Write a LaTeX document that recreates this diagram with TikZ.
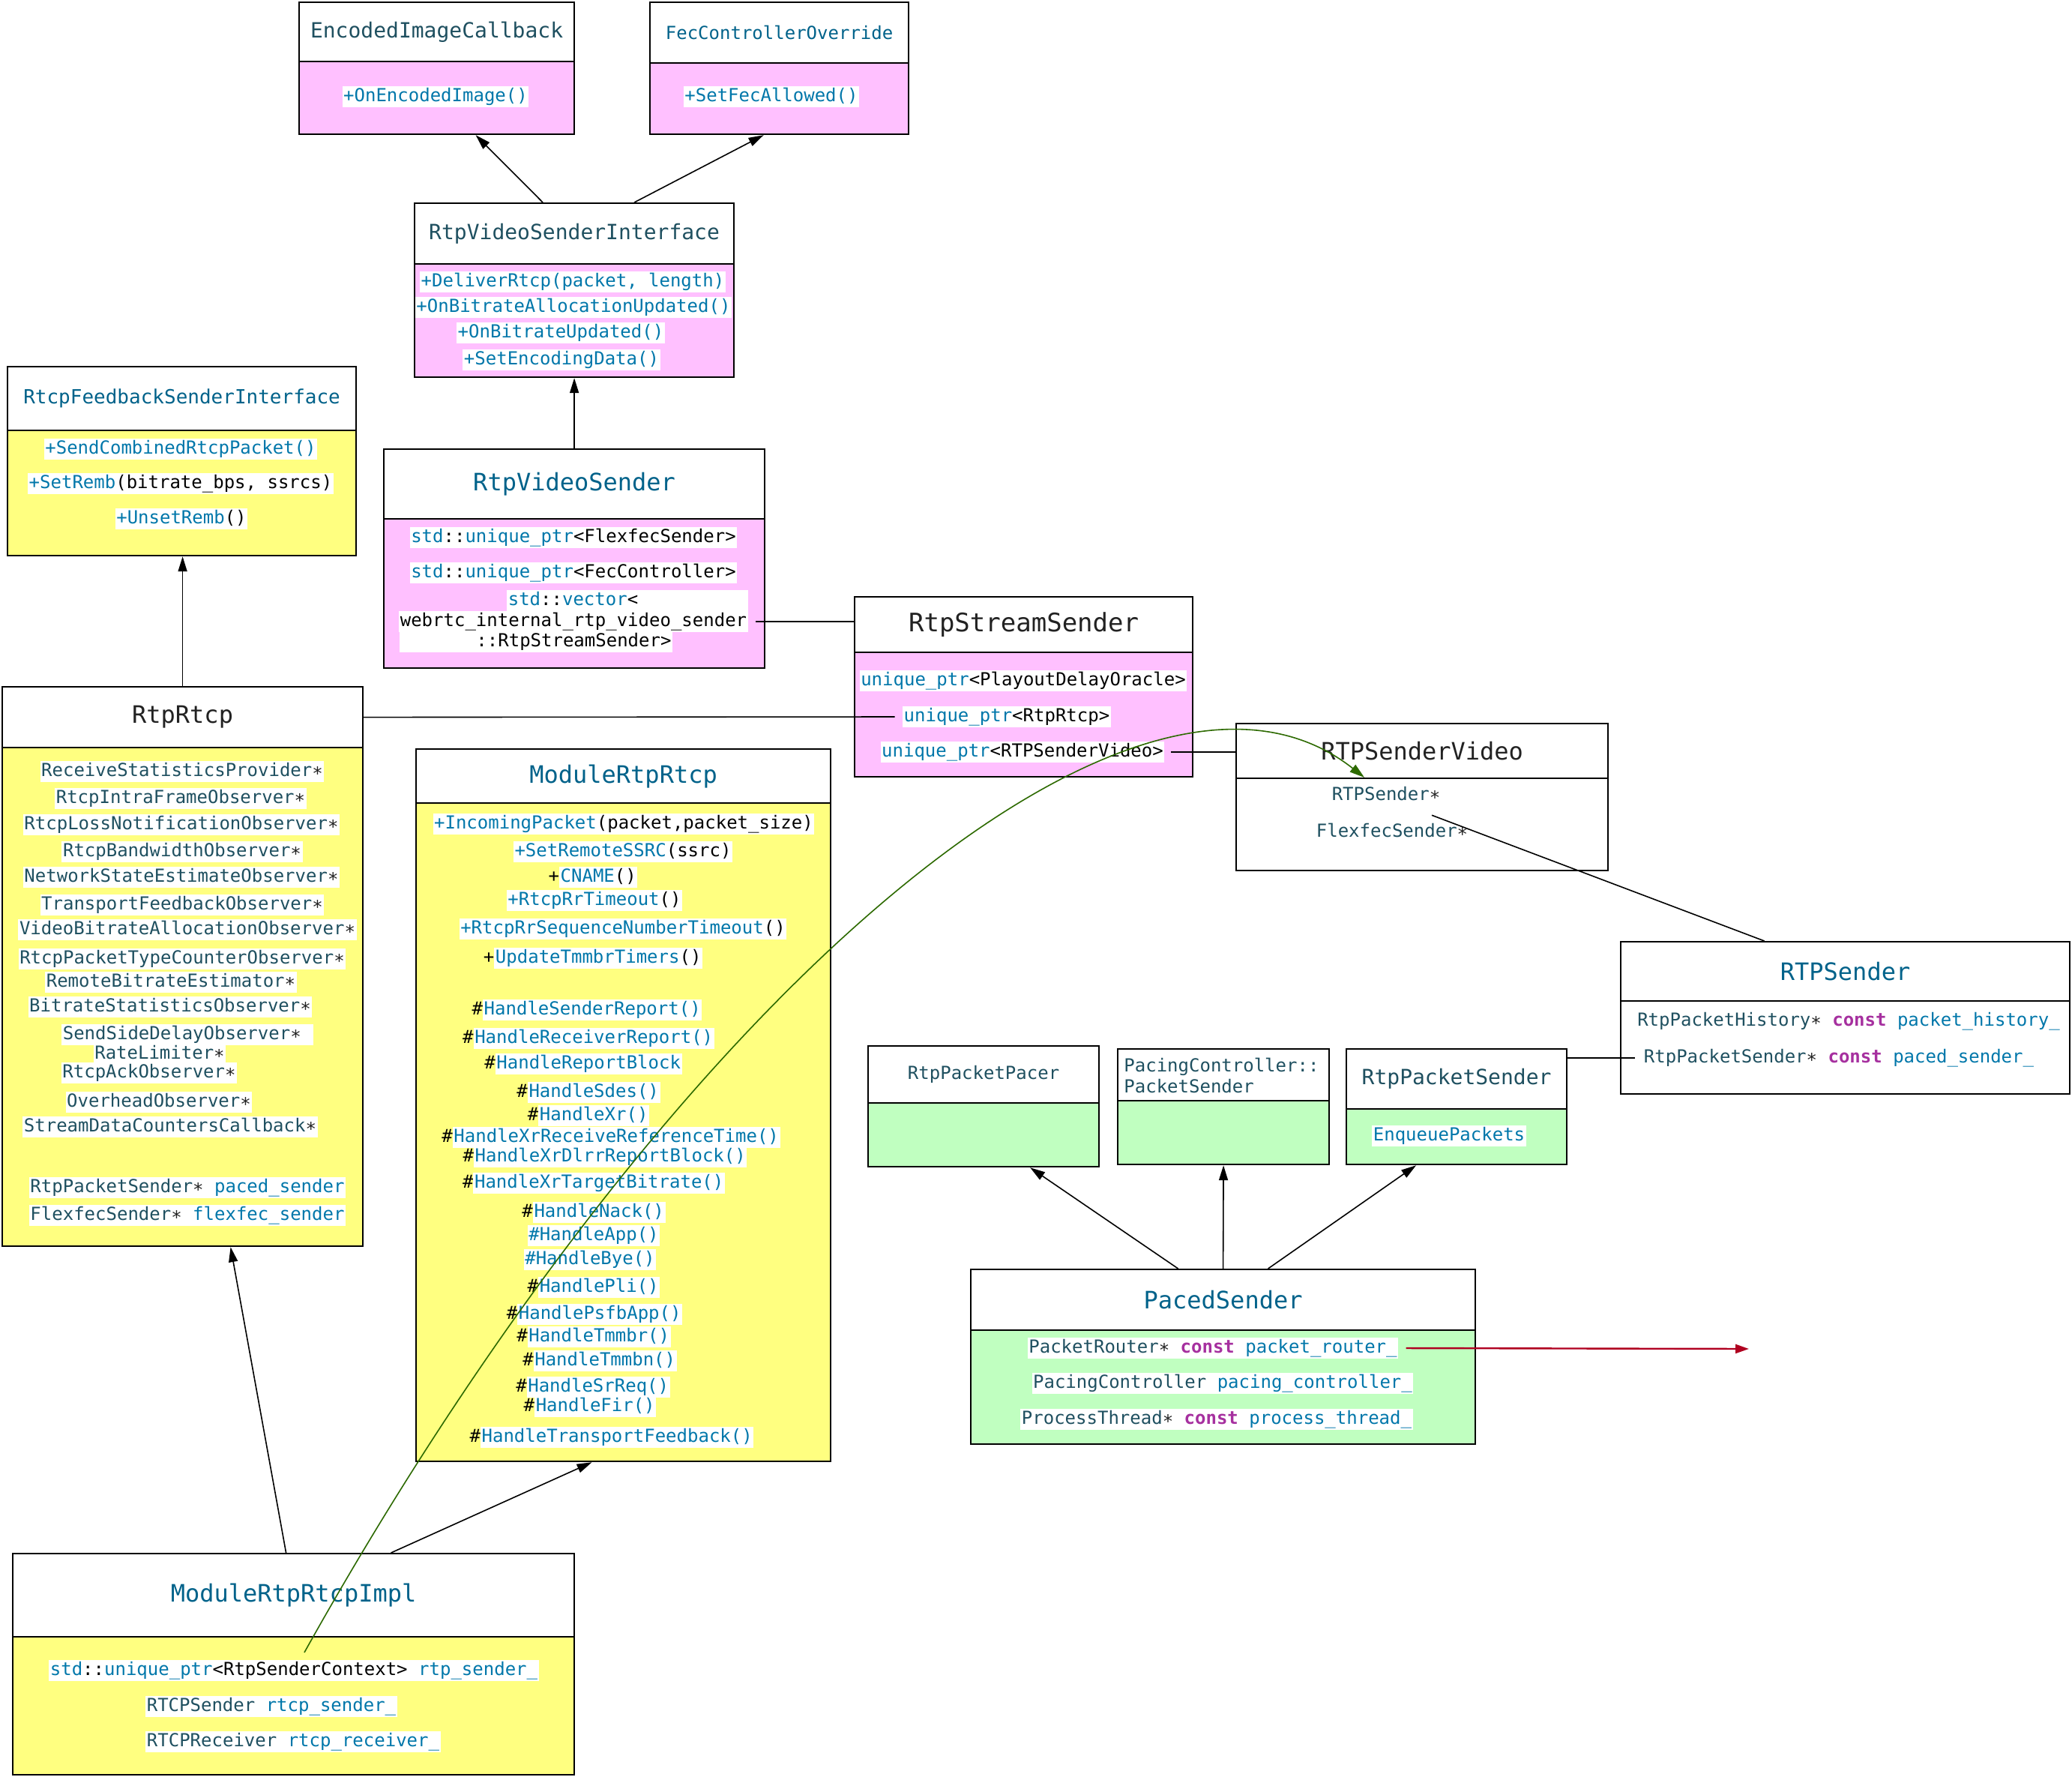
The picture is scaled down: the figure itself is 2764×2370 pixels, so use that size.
\documentclass[tikz,border=0pt]{standalone}
\usepackage{fontspec}
\setmainfont{DejaVu Sans Mono}
\usetikzlibrary{arrows.meta,calc}
\definecolor{cpink}{HTML}{FFC0FF}
\definecolor{cyel}{HTML}{FFFF80}
\definecolor{cgrn}{HTML}{C0FFC0}
\definecolor{cta}{HTML}{1F5060}
\definecolor{ctb}{HTML}{00628A}
\definecolor{cfn}{HTML}{0077AA}
\definecolor{ckw}{HTML}{A6309F}
\definecolor{cdk}{HTML}{222222}
\definecolor{cgreen}{HTML}{2D6A00}
\definecolor{cred}{HTML}{B00020}
\newcommand\fn[1]{\textcolor{cfn}{#1}}
\newcommand\ty[1]{\textcolor{cta}{#1}}
\newcommand\kw[1]{\textcolor{ckw}{\bfseries #1}}
\newcommand\astk{\textcolor{cdk}{∗}}
\newcommand\hl[1]{{\setlength\fboxsep{0.8pt}\colorbox{white}{\vrule width0pt height9pt depth3pt\relax #1}}}
\newcommand\tsz[1]{\fontsize{#1pt}{#1pt}\selectfont}
\tikzset{
  hdr/.style={draw, line width=1.1pt, fill=white, anchor=north west, inner sep=0, text=cdk},
  bdy/.style={draw, line width=1.1pt, fill=#1, anchor=north west, inner sep=0},
  it/.style={inner sep=0, font=\tsz{12}, text=black},
  arr/.style={line width=0.8pt, -{Triangle[length=10pt,width=6pt]}},
  ln/.style={line width=0.8pt},
}
\begin{document}
\begin{tikzpicture}[x=0.5pt,y=-0.5pt]
\fill[white] (0,0) rectangle (2764,2370);
\useasboundingbox (0,0) rectangle (2764,2370);

% EncodedImageCallback
\node[hdr, minimum width=183.5pt, minimum height=39.5pt, text=cta, font=\tsz{14}] (eic) at (398,2) {EncodedImageCallback};
\node[bdy=cpink, minimum width=183.5pt, minimum height=48.5pt] (eicb) at (398,81) {};
\node[it] (eic1) at (581,129) {\hl{\fn{+OnEncodedImage()}}};

% FecControllerOverride
\node[hdr, minimum width=172.5pt, minimum height=40.5pt, text=ctb, font=\tsz{12}] (fco) at (866,2) {FecControllerOverride};
\node[bdy=cpink, minimum width=172.5pt, minimum height=47.5pt] (fcob) at (866,83) {};
\node[it] (fco1) at (1029,129) {\hl{\fn{+SetFecAllowed()}}};

% RtpVideoSenderInterface
\node[hdr, minimum width=213pt, minimum height=40.5pt, text=cta, font=\tsz{14}] (rvsi) at (552,270) {RtpVideoSenderInterface};
\node[bdy=cpink, minimum width=213pt, minimum height=75.5pt] (rvsib) at (552,351) {};
\node[it] (rvsi1) at (764,376) {\hl{\fn{+DeliverRtcp(packet, length)}}};
\node[it] (rvsi2) at (765,410) {\hl{\fn{+OnBitrateAllocationUpdated()}}};
\node[it] (rvsi3) at (748,444) {\hl{\fn{+OnBitrateUpdated()}}};
\node[it] (rvsi4) at (749,480) {\hl{\fn{+SetEncodingData()}}};

% RtcpFeedbackSenderInterface
\node[hdr, minimum width=232.5pt, minimum height=42.5pt, text=ctb, font=\tsz{13}] (rfsi) at (9,488) {RtcpFeedbackSenderInterface};
\node[bdy=cyel, minimum width=232.5pt, minimum height=83.5pt] (rfsib) at (9,573) {};
\node[it] (rfsi1) at (241,599) {\hl{\fn{+SendCombinedRtcpPacket()}}};
\node[it] (rfsi2) at (241,645) {\hl{\fn{+SetRemb}(bitrate\_bps, ssrcs)}};
\node[it] (rfsi3) at (242,692) {\hl{\fn{+UnsetRemb}()}};

% RtpVideoSender
\node[hdr, minimum width=254pt, minimum height=46.5pt, text=ctb, font=\tsz{16}] (rvs) at (511,598) {RtpVideoSender};
\node[bdy=cpink, minimum width=254pt, minimum height=99.5pt] (rvsb) at (511,691) {};
\node[it] (rvs1) at (765,717) {\hl{\fn{std}::\fn{unique\_ptr}<FlexfecSender>}};
\node[it] (rvs2) at (765,764) {\hl{\fn{std}::\fn{unique\_ptr}<FecController>}};
\node[it] (rvs3) at (837,801) {\hl{\fn{std}::\fn{vector}<\hspace{72.5pt}}};
\node[it] (rvs4) at (765,829) {\hl{webrtc\_internal\_rtp\_video\_sender}};
\node[it] (rvs5) at (715,856) {\hl{\hspace{50.5pt}::RtpStreamSender>}};

% RtpStreamSender
\node[hdr, minimum width=225.5pt, minimum height=37pt, font=\tsz{17}] (rss) at (1139,795) {RtpStreamSender};
\node[bdy=cpink, minimum width=225.5pt, minimum height=83pt] (rssb) at (1139,869) {};
\node[it] (rss1) at (1365,908) {\hl{\fn{unique\_ptr}<PlayoutDelayOracle>}};
\node[it] (rss2) at (1343,956) {\hl{\fn{unique\_ptr}<RtpRtcp>}};
\node[it] (rss3) at (1364,1003) {\hl{\fn{unique\_ptr}<RTPSenderVideo>}};

% RtpRtcp
\node[hdr, minimum width=240.5pt, minimum height=40.5pt, font=\tsz{16}] (rr) at (2,915) {RtpRtcp};
\node[bdy=cyel, minimum width=240.5pt, minimum height=332.5pt] (rrb) at (2,996) {};
\node[it] (rr1) at (243,1029) {\hl{\ty{ReceiveStatisticsProvider}\astk}};
\node[it] (rr2) at (241,1065) {\hl{\ty{RtcpIntraFrameObserver}\astk}};
\node[it] (rr3) at (242,1100) {\hl{\ty{RtcpLossNotificationObserver}\astk}};
\node[it] (rr4) at (243,1136) {\hl{\ty{RtcpBandwidthObserver}\astk}};
\node[it] (rr5) at (242,1170) {\hl{\ty{NetworkStateEstimateObserver}\astk}};
\node[it] (rr6) at (243,1207) {\hl{\ty{TransportFeedbackObserver}\astk}};
\node[it] (rr7) at (250,1240) {\hl{\ty{VideoBitrateAllocationObserver}\astk}};
\node[it] (rr8) at (243,1279) {\hl{\ty{RtcpPacketTypeCounterObserver}\astk}};
\node[it] (rr9) at (228,1310) {\hl{\ty{RemoteBitrateEstimator}\astk}};
\node[it] (rr10) at (227,1343) {\hl{\ty{BitrateStatisticsObserver}\astk}};
\node[it] (rr11) at (250,1380) {\hl{\ty{SendSideDelayObserver}\astk~}};
\node[it] (rr12) at (213,1406) {\hl{\ty{RateLimiter}\astk}};
\node[it] (rr13) at (199,1431) {\hl{\ty{RtcpAckObserver}\astk}};
\node[it] (rr14) at (212,1470) {\hl{\ty{OverheadObserver}\astk}};
\node[it] (rr15) at (227,1503) {\hl{\ty{StreamDataCountersCallback}\astk}};
\node[it] (rr16) at (250,1584) {\hl{\ty{RtpPacketSender}\astk{} \fn{paced\_sender}}};
\node[it] (rr17) at (250,1621) {\hl{\ty{FlexfecSender}\astk{} \fn{flexfec\_sender}}};

% ModuleRtpRtcp
\node[hdr, minimum width=276.5pt, minimum height=36pt, text=ctb, font=\tsz{16}] (mrr) at (554,998) {ModuleRtpRtcp};
\node[bdy=cyel, minimum width=276.5pt, minimum height=439pt] (mrrb) at (554,1070) {};
\node[it] (m1) at (832,1099) {\hl{\fn{+IncomingPacket}(packet,packet\_size)}};
\node[it] (m2) at (831,1136) {\hl{\fn{+SetRemoteSSRC}(ssrc)}};
\node[it] (m3) at (791,1170) {+\hl{\fn{CNAME}()}};
\node[it] (m4) at (793,1201) {\hl{\fn{+RtcpRrTimeout}()}};
\node[it] (m5) at (831,1239) {\hl{\fn{+RtcpRrSequenceNumberTimeout}()}};
\node[it] (m6) at (791,1278) {+\hl{\fn{UpdateTmmbrTimers}()}};
\node[it] (m7) at (783,1347) {\#\hl{\fn{HandleSenderReport()}}};
\node[it] (m8) at (785,1385) {\#\hl{\fn{HandleReceiverReport()}}};
\node[it] (m9) at (778,1419) {\#\hl{\fn{HandleReportBlock}}};
\node[it] (m10) at (785,1457) {\#\hl{\fn{HandleSdes()}}};
\node[it] (m11) at (785,1488) {\#\hl{\fn{HandleXr()}}};
\node[it] (m12) at (815,1517) {\#\hl{\fn{HandleXrReceiveReferenceTime()}}};
\node[it] (m13) at (807,1543) {\#\hl{\fn{HandleXrDlrrReportBlock()}}};
\node[it] (m14) at (792,1578) {\#\hl{\fn{HandleXrTargetBitrate()}}};
\node[it] (m15) at (792,1617) {\#\hl{\fn{HandleNack()}}};
\node[it] (m16) at (792,1648) {\hl{\fn{\#HandleApp()}}};
\node[it] (m17) at (787,1680) {\hl{\fn{\#HandleBye()}}};
\node[it] (m18) at (792,1717) {\#\hl{\fn{HandlePli()}}};
\node[it] (m19) at (793,1753) {\#\hl{\fn{HandlePsfbApp()}}};
\node[it] (m20) at (792,1783) {\#\hl{\fn{HandleTmmbr()}}};
\node[it] (m21) at (800,1815) {\#\hl{\fn{HandleTmmbn()}}};
\node[it] (m22) at (791,1850) {\#\hl{\fn{HandleSrReq()}}};
\node[it] (m23) at (787,1876) {\#\hl{\fn{HandleFir()}}};
\node[it] (m24) at (816,1917) {\#\hl{\fn{HandleTransportFeedback()}}};

% RTPSenderVideo
\node[hdr, minimum width=248pt, minimum height=36.5pt, font=\tsz{16}] (rsv) at (1648,964) {RTPSenderVideo};
\node[bdy=white, minimum width=248pt, minimum height=61.5pt] (rsvb) at (1648,1037) {};
\node[it] (rsv1) at (1849,1059) {\ty{RTPSender}\astk};
\node[it] (rsv2) at (1857,1107) {\ty{FlexfecSender}\astk};

% RTPSender
\node[hdr, minimum width=299.5pt, minimum height=39.5pt, text=ctb, font=\tsz{16}] (rtps) at (2161,1255) {RTPSender};
\node[bdy=white, minimum width=299.5pt, minimum height=62pt] (rtpsb) at (2161,1334) {};
\node[it] (rtps1) at (2466,1362) {\hl{\ty{RtpPacketHistory}\astk{} \kw{const} \fn{packet\_history\_}}};
\node[it] (rtps2) at (2453,1411) {\hl{\ty{RtpPacketSender}\astk{} \kw{const} \fn{paced\_sender\_}}};

% RtpPacketPacer
\node[hdr, minimum width=154pt, minimum height=38pt, text=cta, font=\tsz{12}] (rpp) at (1157,1394) {RtpPacketPacer};
\node[bdy=cgrn, minimum width=154pt, minimum height=42.5pt] (rppb) at (1157,1470) {};

% PacingController::PacketSender
\node[hdr, minimum width=141pt, minimum height=34.5pt] (pc) at (1490,1398) {};
\node[bdy=cgrn, minimum width=141pt, minimum height=42.5pt] (pcb) at (1490,1467) {};
\node[anchor=west, align=left, inner sep=0, text=cta, font=\fontsize{12pt}{14pt}\selectfont] (pct) at (1499,1434) {PacingController::\\PacketSender};

% RtpPacketSender
\node[hdr, minimum width=147pt, minimum height=40pt, text=cta, font=\tsz{14}] (rps) at (1795,1398) {RtpPacketSender};
\node[bdy=cgrn, minimum width=147pt, minimum height=37pt] (rpsb) at (1795,1478) {};
\node[it] (rps1) at (1933,1515) {\hl{\fn{EnqueuePackets}}};

% PacedSender
\node[hdr, minimum width=336.5pt, minimum height=40.5pt, text=ctb, font=\tsz{16}] (ps) at (1294,1692) {PacedSender};
\node[bdy=cgrn, minimum width=336.5pt, minimum height=76pt] (psb) at (1294,1773) {};
\node[it] (ps1) at (1618,1798) {\hl{\ty{PacketRouter}\astk{} \kw{const} \fn{packet\_router\_}}};
\node[it] (ps2) at (1631,1845) {\hl{\ty{PacingController} \fn{pacing\_controller\_}}};
\node[it] (ps3) at (1623,1893) {\hl{\ty{ProcessThread}\astk{} \kw{const} \fn{process\_thread\_}}};

% ModuleRtpRtcpImpl
\node[hdr, minimum width=374.5pt, minimum height=55.5pt, text=ctb, font=\tsz{16}] (mri) at (16,2071) {ModuleRtpRtcpImpl};
\node[bdy=cyel, minimum width=374.5pt, minimum height=92pt] (mrib) at (16,2182) {};
\node[it] (mri1) at (392,2228) {\hl{\fn{std}::\fn{unique\_ptr}<RtpSenderContext> \fn{rtp\_sender\_}}};
\node[it] (mri2) at (362,2276) {\hl{\ty{RTCPSender} \fn{rtcp\_sender\_}}};
\node[it] (mri3) at (391,2323) {\hl{\ty{RTCPReceiver} \fn{rtcp\_receiver\_}}};

\coordinate (redend) at (2333,1799);

% connectors
\draw[arr] ($(rvsi.north)+(-42,0)$) -- ($(eicb.south)+(52,0)$);
\draw[arr] ($(rvsi.north)+(80,0)$) -- ($(fcob.south)+(-21,0)$);
\draw[arr] (rvs.north) -- (rvsib.south);
\draw[arr] (rr.north) -- (rr.north |- rfsib.south);
\draw[arr] ($(mri.north)+(-10,0)$) -- ($(rrb.south)+(64,0)$);
\draw[arr] ($(mri.north)+(130,0)$) -- ($(mrrb.south)+(-42,0)$);
\draw[arr] ($(ps.north)+(-60,0)$) -- ($(rppb.south)+(62,0)$);
\draw[arr] (ps.north) -- (pcb.south);
\draw[arr] ($(ps.north)+(60,0)$) -- ($(rpsb.south)+(-54,0)$);

\draw[ln] ($(rvs4.east)+(10,0)$) -- (rvs4.east -| rss.west);
\draw[ln, shorten >=5pt] (rr.east) -- (rss2.west);
\draw[ln, shorten <=4pt] (rss3.east) -- (rss3.east -| rsv.west);
\draw[ln] ($(rsv2.north)+(53,-10)$) -- ($(rtps.north)+(-108,0)$);
\draw[ln, shorten <=5pt] (rtps2.west) -- (rtps2.west -| rps.east);
\draw[cred, line width=1.2pt, shorten <=5pt, -{Triangle[length=9pt,width=6pt]}] (ps1.east) -- (redend);
\draw[cgreen, line width=0.8pt, -{Triangle[length=10pt,width=6pt]}] ($(mri1.north)+(14,-10)$) .. controls (900,1320) and (1519,800) .. ($(rsvb.north)+(-77,0)$);
\end{tikzpicture}
\end{document}
